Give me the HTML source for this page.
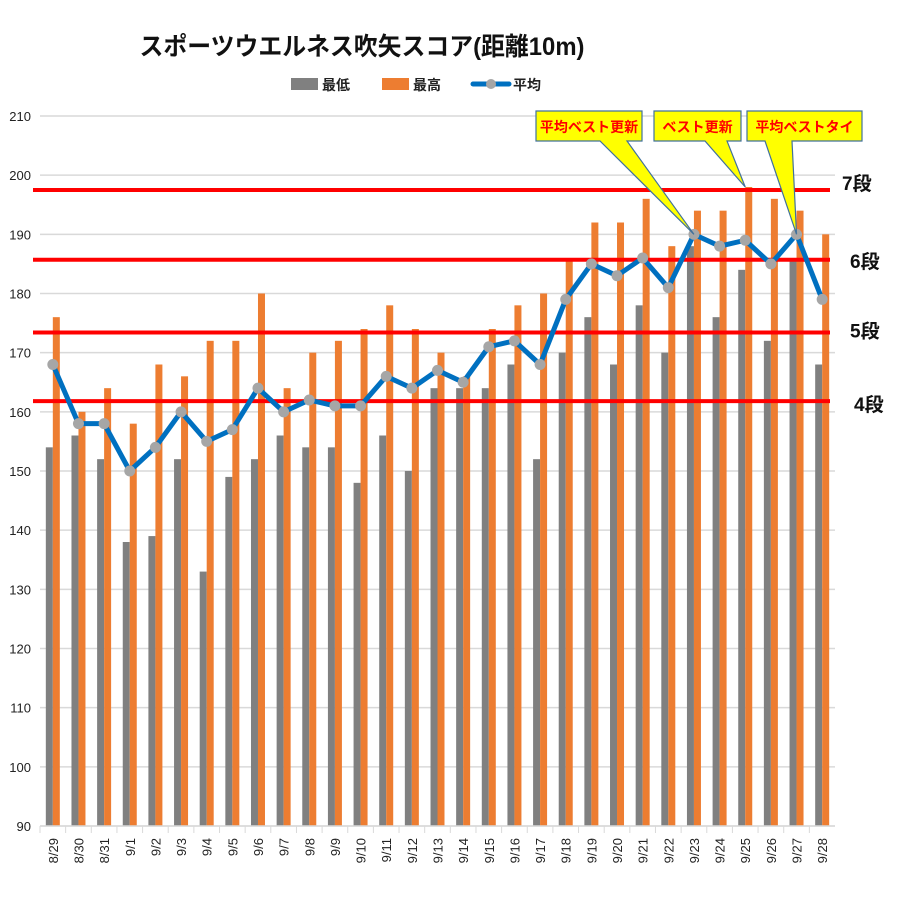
<!DOCTYPE html>
<html><head><meta charset="utf-8"><style>
body{margin:0;background:#fff;}
svg{display:block;font-family:"Liberation Sans","Noto Sans CJK JP",sans-serif;}
</style></head><body>
<svg id="chart" width="900" height="900" viewBox="0 0 900 900" xmlns="http://www.w3.org/2000/svg">
<rect width="900" height="900" fill="#fff"/>
<text x="362" y="55" text-anchor="middle" font-size="25" font-weight="bold" fill="#111" textLength="445" lengthAdjust="spacingAndGlyphs">スポーツウエルネス吹矢スコア(距離10m)</text>
<g>
<rect x="291" y="78" width="27" height="12" fill="#808080"/>
<text x="322" y="90" font-size="14" font-weight="bold" fill="#222">最低</text>
<rect x="382" y="78" width="27" height="12" fill="#ed7d31"/>
<text x="413" y="90" font-size="14" font-weight="bold" fill="#222">最高</text>
<line x1="473" y1="84" x2="509" y2="84" stroke="#0070c0" stroke-width="5" stroke-linecap="round"/>
<circle cx="491" cy="84" r="5" fill="#a6a6a6"/>
<text x="513" y="90" font-size="14" font-weight="bold" fill="#222">平均</text>
</g>
<g id="grid"></g><g id="bars"></g><g id="dan"></g><g id="line"></g><g id="axes"></g><g id="callouts"></g>
</svg>
<script>
const categories=["8/29","8/30","8/31","9/1","9/2","9/3","9/4","9/5","9/6","9/7","9/8","9/9","9/10","9/11","9/12","9/13","9/14","9/15","9/16","9/17","9/18","9/19","9/20","9/21","9/22","9/23","9/24","9/25","9/26","9/27","9/28"];
const minValues=[154,156,152,138,139,152,133,149,152,156,154,154,148,156,150,164,164,164,168,152,170,176,168,178,170,188,176,184,172,186,168];
const maxValues=[176,160,164,158,168,166,172,172,180,164,170,172,174,178,174,170,166,174,178,180,186,192,192,196,188,194,194,198,196,194,190];
const avgValues=[168,158,158,150,154,160,155,157,164,160,162,161,161,166,164,167,165,171,172,168,179,185,183,186,181,190,188,189,185,190,179];
const yTicks=[90,100,110,120,130,140,150,160,170,180,190,200,210];
const danLevels=[197.5,185.7,173.4,161.8];
const danLabels=["7段","6段","5段","4段"];
const NS="http://www.w3.org/2000/svg";
const L=40,R=835,T=116,B=826,yMin=90,yMax=210;
const bw=(R-L)/categories.length;
const y=v=>B-(v-yMin)/(yMax-yMin)*(B-T);
const xc=i=>L+bw*(i+0.5);
function mk(tag,attrs,parent,txt){const e=document.createElementNS(NS,tag);for(const k in attrs)e.setAttribute(k,attrs[k]);if(txt!==undefined)e.textContent=txt;document.getElementById(parent).appendChild(e);return e;}
yTicks.forEach(t=>{
  const g=mk('line',{x1:L,x2:R,y1:y(t),y2:y(t),stroke:'#d9d9d9','stroke-width':1.5},'grid');
  
  
  const tx=mk('text',{x:31,y:y(t)+5,'text-anchor':'end','font-size':13,fill:'#222'},'axes',t);
  
  
});
categories.forEach((c,i)=>{
  const g=mk('rect',{x:xc(i)-7,y:y(minValues[i]),width:7,height:B-y(minValues[i]),fill:'#808080'},'bars');
  
  
  const o=mk('rect',{x:xc(i),y:y(maxValues[i]),width:7,height:B-y(maxValues[i]),fill:'#ed7d31'},'bars');
  
  
  const tk=mk('line',{x1:L+bw*i,x2:L+bw*i,y1:B,y2:B+7,stroke:'#d9d9d9'},'axes');
  
  
  const lb=mk('text',{transform:`translate(${xc(i)+5},838) rotate(-90)`,'text-anchor':'end','font-size':13,fill:'#222'},'axes',c);
  
  
});
const ax=mk('line',{x1:L,x2:R,y1:B,y2:B,stroke:'#d9d9d9','stroke-width':1.5},'axes');


danLevels.forEach((v,i)=>{
  const l=mk('line',{x1:33,x2:830,y1:y(v),y2:y(v),stroke:'#ff0000','stroke-width':4},'dan');
  
  
  const t=mk('text',{x:[842,850,850,854][i],y:y(v)+[0,8,5,10][i],'font-size':19,'font-weight':'bold',fill:'#111'},'dan',danLabels[i]);
  
  
});
const pl=mk('polyline',{points:avgValues.map((v,i)=>xc(i)+','+y(v)).join(' '),fill:'none',stroke:'#0070c0','stroke-width':5,'stroke-linejoin':'round'},'line');


avgValues.forEach((v,i)=>{
  const c=mk('circle',{cx:xc(i),cy:y(v),r:5.5,fill:'#a6a6a6'},'line');
  
  
});
const calls=[{x:536,w:106,txt:"平均ベスト更新",tx:[600,627],ti:25,tv:190},{x:654,w:87,txt:"ベスト更新",tx:[705,727],ti:27,tv:198},{x:747,w:115,txt:"平均ベストタイ",tx:[765,792],ti:29,tv:190}];
calls.forEach(c=>{
  const p=mk('path',{d:`M${c.x},111 H${c.x+c.w} V141 H${c.tx[1]} L${xc(c.ti)},${y(c.tv)} L${c.tx[0]},141 H${c.x} Z`,fill:'#ffff00',stroke:'#41719c','stroke-width':1.2},'callouts');
  
  
  const t=mk('text',{x:c.x+c.w/2,y:132,'text-anchor':'middle','font-size':14,'font-weight':'bold',fill:'#ff0000'},'callouts',c.txt);
  
  
});
</script>
</body></html>
